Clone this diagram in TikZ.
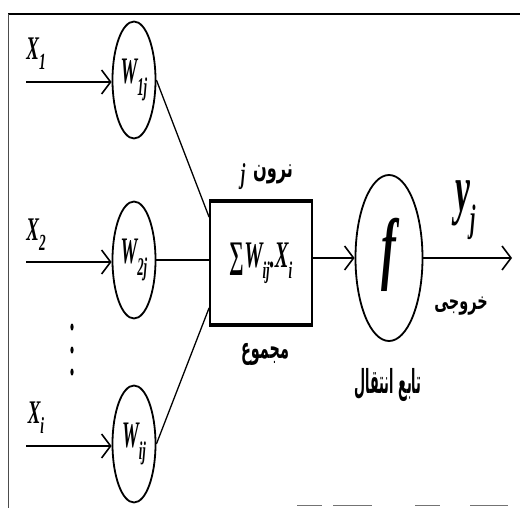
\documentclass[tikz,border=0pt]{standalone}
\usepackage{fontspec}
\newfontfamily\fa[Script=Arabic]{DejaVu Sans}
\newfontfamily\lsi{Liberation Serif}
\TeXXeTstate=1
\usetikzlibrary{shapes.geometric,arrows.meta,calc}
% size, xscale, yscale, main, subscript size, subscript
\newcommand\lt[6]{\scalebox{#2}[#3]{\fontsize{#1}{#1}\selectfont\lsi\bfseries\itshape #4\raisebox{-0.3em}{\fontsize{#5}{#5}\selectfont #6}}}
\newcommand\pl[4]{\scalebox{#2}[#3]{\fontsize{#1}{#1}\selectfont\fa\bfseries #4}}
\begin{document}
\begin{tikzpicture}[x=1pt,y=-1pt,
  wnode/.style={draw, ellipse, line width=1.8pt, minimum width=43pt, minimum height=117pt, inner sep=0pt},
  fnode/.style={draw, ellipse, line width=1.8pt, minimum width=67pt, minimum height=166pt, inner sep=0pt},
  sumbox/.style={draw, rectangle, line width=1.8pt, minimum width=102pt, minimum height=122pt, inner sep=0pt},
  inarrow/.style={line width=2.6pt, -{Straight Barb[length=9pt,width=24pt,line width=1.6pt]}},
  conn/.style={line width=1.3pt},
  txt/.style={inner sep=0pt, outer sep=0pt}
]
\useasboundingbox (0,0) rectangle (520,508);
% frame
\draw[line width=2.4pt] (8,14) -- (520,14);
\draw[line width=1pt, black!70] (8,14) -- (8,508);
\draw[line width=1pt, black!55] (297,505) -- (322,505) (333,505) -- (372,505) (415,505) -- (440,505) (470,505) -- (508,505);

% weight nodes
\node[wnode] (w1) at (134,80) {\lt{22}{0.85}{1.7}{W}{15}{1j}};
\node[wnode] (w2) at (134,260) {\lt{22}{0.85}{1.7}{W}{15}{2j}};
\node[wnode] (w3) at (134,444) {\lt{22}{0.85}{1.7}{W}{15}{ij}};

% input labels
\node[txt] (x1) at (36,54) {\lt{20}{0.95}{1.65}{X}{14}{1}};
\node[txt] (x2) at (36,235) {\lt{20}{0.95}{1.65}{X}{14}{2}};
\node[txt] (x3) at (36,418) {\lt{20}{0.95}{1.65}{X}{14}{i}};

% inputs
\coordinate (i1) at (26,82);
\coordinate (i2) at (26,262);
\coordinate (i3) at (26,446);
\draw[inarrow] (i1) -- (w1.west |- i1);
\draw[inarrow] (i2) -- (w2.west |- i2);
\draw[inarrow] (i3) -- (w3.west |- i3);

% dots
\foreach \yy in {327,350,372} \fill (72,\yy) ellipse (1.6pt and 3.5pt);

% sum box
\node[sumbox] (box) at (261,263) {\lt{25}{0.82}{1.5}{\upshape∑\itshape W}{16}{ij}\lt{25}{0.82}{1.5}{.X}{16}{i}};
\draw[line width=4.5pt] (box.north west) -- (box.north east);
\draw[line width=4.5pt] (box.south west) -- (box.south east);

\coordinate (b1) at ($(box.north west)+(0,16)$);
\coordinate (b3) at ($(box.south west)+(0,-17)$);
\draw[conn] (w1.east) -- (b1);
\draw[line width=2pt] (w2.east) -- (w2.east -| box.west);
\draw[conn] (w3.east) -- (b3);

\node[txt] (top) at (273,174) {\pl{19}{0.85}{1.4}{\beginR نرون\endR}};
\node[txt] (topj) at (243,178) {\lt{18}{0.9}{1.6}{j}{10}{}};
\node[txt] (bot) at (265,354) {\pl{17}{0.85}{1.7}{\beginR مجموع\endR}};

% transfer function
\node[fnode] (f) at (389,258) {\lt{40}{1.1}{2.0}{f}{10}{}};
\draw[inarrow] (box.east |- f) -- (f.west);
\coordinate (out) at (512,258);
\draw[inarrow] (f.east) -- (out);

\node[txt] (y) at (466,210) {\lt{28}{1.2}{2.4}{y}{16}{j}};
\node[txt] (kh) at (461,306) {\pl{17}{0.85}{1.4}{\beginR خروجی\endR}};
\node[txt] (tf) at (388,385) {\pl{15}{0.85}{2.2}{\beginR تابع انتقال\endR}};
\end{tikzpicture}
\end{document}
